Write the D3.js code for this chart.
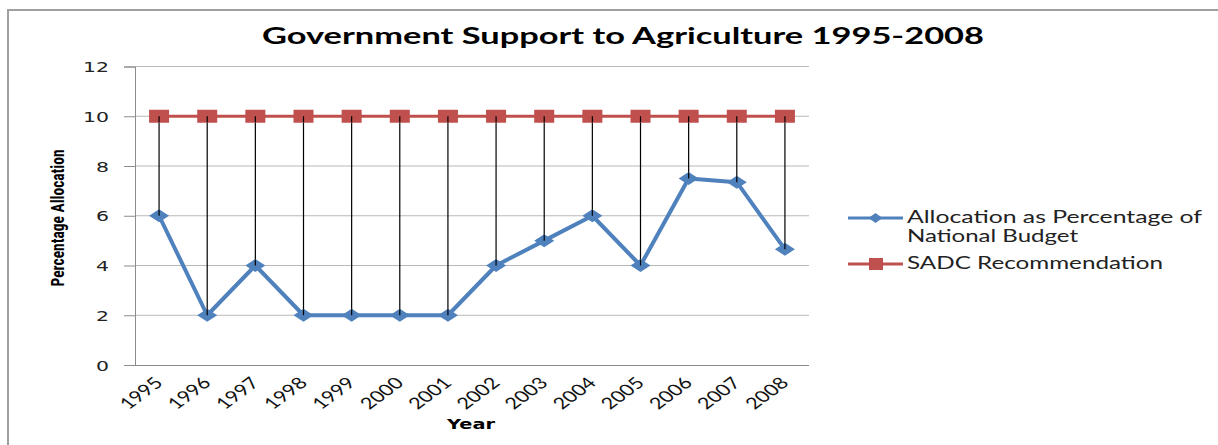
<!DOCTYPE html>
<meta charset="utf-8">
<script src="https://d3js.org/d3.v7.min.js"></script>
<style>
  body { margin: 0; background: #fff; }
  svg { display: block; }
</style>
<body>
<div id="chart"></div>
<script>
  // data
  const years = ["1995","1996","1997","1998","1999","2000","2001","2002","2003","2004","2005","2006","2007","2008"];
  const allocation = [6, 2, 4, 2, 2, 2, 2, 4, 5, 6, 4, 7.5, 7.35, 4.65];
  const sadc = [10, 10, 10, 10, 10, 10, 10, 10, 10, 10, 10, 10, 10, 10];
  const yTicks = [0, 2, 4, 6, 8, 10, 12];
  const seriesNames = ["Allocation as Percentage of|National Budget", "SADC Recommendation"];

  const W = 1218, H = 445;
  const plot = {left: 135, right: 809, top: 66.5, bottom: 365};
  const blue = "#4F81BD", red = "#C0504D";

  const svg = d3.select("#chart").append("svg")
    .attr("width", W).attr("height", H);

  // outer frame (top and left edges visible)
  svg.append("path")
    .attr("d", `M8,${H} L8,10 L${W},10`)
    .attr("fill", "none").attr("stroke", "#a0a0a0").attr("stroke-width", 2);

  const x = d3.scaleBand().domain(years).range([plot.left, plot.right]);
  const y = d3.scaleLinear().domain([0, 12]).range([plot.bottom, plot.top]);
  const cx = d => x(d) + x.bandwidth() / 2;

  // gridlines
  svg.append("g").selectAll("line").data(yTicks.filter(d => d > 0)).enter().append("line")
    .attr("x1", plot.left).attr("x2", plot.right)
    .attr("y1", d => y(d)).attr("y2", d => y(d))
    .attr("stroke", "#b8b8b8").attr("stroke-width", 1);

  // y axis
  const yAxis = svg.append("g")
    .attr("transform", `translate(${plot.left},0)`)
    .call(d3.axisLeft(y).tickValues(yTicks).tickSize(11).tickPadding(15));
  yAxis.select(".domain").attr("stroke", "#8c8c8c");
  yAxis.selectAll(".tick line").attr("stroke", "#8c8c8c");
  yAxis.selectAll(".tick text")
    .attr("font-family", "'DejaVu Sans', Verdana, sans-serif")
    .attr("font-size", 14).attr("fill", "#222")
    .attr("dy", "0.36em")
    .attr("textLength", d => String(d).length * 13)
    .attr("lengthAdjust", "spacingAndGlyphs");

  // x axis (labels rotated 45deg, then stretched sideways like the original)
  const xAxis = svg.append("g")
    .attr("transform", `translate(0,${plot.bottom})`)
    .call(d3.axisBottom(x).tickSize(0).tickPadding(0));
  xAxis.select(".domain").attr("stroke", "#8c8c8c").attr("d", `M${plot.left - 11},0.5H${plot.right}`);
  xAxis.selectAll(".tick text")
    .attr("font-family", "Lato, 'Open Sans', sans-serif")
    .attr("font-size", 16).attr("fill", "#111")
    .attr("text-anchor", "end")
    .attr("dy", 0).attr("y", 0)
    .attr("transform", "translate(5,19) scale(1.35,1) rotate(-45)");

  // high-low drop lines between the two series
  svg.append("g").selectAll("line").data(years).enter().append("line")
    .attr("x1", d => cx(d)).attr("x2", d => cx(d))
    .attr("y1", (d, i) => y(sadc[i])).attr("y2", (d, i) => y(allocation[i]))
    .attr("stroke", "#000").attr("stroke-width", 1.2);

  // SADC line + squares
  const line = d3.line().x((d, i) => cx(years[i])).y(d => y(d));
  svg.append("path").datum(sadc).attr("d", line)
    .attr("fill", "none").attr("stroke", red).attr("stroke-width", 3);
  svg.append("g").selectAll("rect").data(sadc).enter().append("rect")
    .attr("x", (d, i) => cx(years[i]) - 10).attr("y", d => y(d) - 6.5)
    .attr("width", 20).attr("height", 13).attr("fill", red);

  // allocation line + diamonds
  svg.append("path").datum(allocation).attr("d", line)
    .attr("fill", "none").attr("stroke", blue).attr("stroke-width", 4)
    .attr("stroke-linejoin", "round");
  const diamond = "M-10,0 L0,-6.5 L10,0 L0,6.5 Z";
  svg.append("g").selectAll("path").data(allocation).enter().append("path")
    .attr("d", diamond)
    .attr("transform", (d, i) => `translate(${cx(years[i])},${y(d)})`)
    .attr("fill", blue);

  // drop lines show through the markers
  svg.append("g").selectAll("line").data(years).enter().append("line")
    .attr("x1", d => cx(d)).attr("x2", d => cx(d))
    .attr("y1", (d, i) => y(sadc[i])).attr("y2", (d, i) => y(sadc[i]) + 6)
    .attr("stroke", "#000").attr("stroke-width", 1.2);
  svg.append("g").selectAll("line").data(years).enter().append("line")
    .attr("x1", d => cx(d)).attr("x2", d => cx(d))
    .attr("y1", (d, i) => y(allocation[i]) - 6).attr("y2", (d, i) => y(allocation[i]))
    .attr("stroke", "#000").attr("stroke-width", 1.2);

  // title
  svg.append("text")
    .attr("x", 623).attr("y", 44).attr("text-anchor", "middle")
    .attr("font-family", "Lato, 'Open Sans', sans-serif")
    .attr("font-weight", "bold").attr("font-size", 23)
    .attr("textLength", 722).attr("lengthAdjust", "spacingAndGlyphs")
    .attr("fill", "#000")
    .text("Government Support to Agriculture 1995-2008");

  // axis titles
  svg.append("text")
    .attr("transform", "translate(64,218) rotate(-90)")
    .attr("text-anchor", "middle")
    .attr("font-family", "'Liberation Sans Narrow', 'Roboto Condensed', sans-serif")
    .attr("font-weight", "bold").attr("font-size", 18)
    .attr("textLength", 137).attr("lengthAdjust", "spacingAndGlyphs")
    .text("Percentage Allocation");

  svg.append("text")
    .attr("x", 471).attr("y", 429).attr("text-anchor", "middle")
    .attr("font-family", "'DejaVu Sans', Verdana, sans-serif")
    .attr("font-weight", "bold").attr("font-size", 14)
    .attr("textLength", 48).attr("lengthAdjust", "spacingAndGlyphs")
    .text("Year");

  // legend
  const legY = [218, 264];
  const legend = svg.append("g");
  legend.append("line").attr("x1", 848).attr("x2", 903).attr("y1", legY[0]).attr("y2", legY[0])
    .attr("stroke", blue).attr("stroke-width", 3);
  legend.append("path").attr("d", "M-7,0 L0,-5 L7,0 L0,5 Z")
    .attr("transform", `translate(875.5,${legY[0]})`).attr("fill", blue);
  legend.append("line").attr("x1", 848).attr("x2", 903).attr("y1", legY[1]).attr("y2", legY[1])
    .attr("stroke", red).attr("stroke-width", 3);
  legend.append("rect").attr("x", 869).attr("y", legY[1] - 6).attr("width", 14).attr("height", 12)
    .attr("fill", red);

  const legFont = "Lato, 'Open Sans', sans-serif";
  const lines0 = seriesNames[0].split("|");
  legend.append("text").attr("x", 907).attr("y", legY[0] + 5)
    .attr("font-family", legFont).attr("font-size", 17).attr("fill", "#222")
    .attr("textLength", 295).attr("lengthAdjust", "spacingAndGlyphs")
    .text(lines0[0]);
  legend.append("text").attr("x", 907).attr("y", legY[0] + 24)
    .attr("font-family", legFont).attr("font-size", 17).attr("fill", "#222")
    .attr("textLength", 171).attr("lengthAdjust", "spacingAndGlyphs")
    .text(lines0[1]);
  legend.append("text").attr("x", 907).attr("y", legY[1] + 5)
    .attr("font-family", legFont).attr("font-size", 17).attr("fill", "#222")
    .attr("textLength", 256).attr("lengthAdjust", "spacingAndGlyphs")
    .text(seriesNames[1]);
</script>
</body>
